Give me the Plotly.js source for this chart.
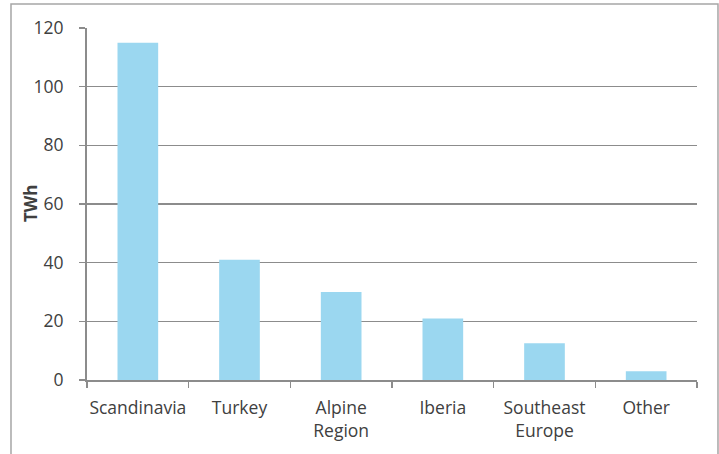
<!DOCTYPE html>
<html>
<head>
<meta charset="utf-8">
<script src="https://cdn.plot.ly/plotly-3.0.1.min.js"></script>
<style>
  html, body { margin: 0; padding: 0; background: #fff; }
  #chart { width: 719px; height: 454px; }
</style>
</head>
<body>
<div id="chart"></div>
<script>
// Hydropower generation by region (TWh)
const regions = ["Scandinavia", "Turkey", "Alpine<br>Region", "Iberia", "Southeast<br>Europe", "Other"];
const generationTWh = [115, 41, 30, 21, 12.5, 3];
const yTicks = [0, 20, 40, 60, 80, 100, 120];
const yAxisLabel = "TWh";

const textColor = "#404040";
const gridColor = "#8c8c8c";
const fontFamily = "'Open Sans', sans-serif";

const trace = {
  type: "bar",
  x: regions,
  y: generationTWh,
  marker: { color: "#9BD7F0", line: { width: 0 } },
  hoverinfo: "x+y"
};

const layout = {
  width: 719,
  height: 454,
  margin: { l: 87, r: 22, t: 28, b: 74 },
  paper_bgcolor: "#ffffff",
  plot_bgcolor: "#ffffff",
  bargap: 0.6,
  showlegend: false,
  font: { family: fontFamily, size: 17.5, color: textColor },
  xaxis: {
    type: "category",
    showgrid: false,
    showline: true,
    linecolor: gridColor,
    linewidth: 2,
    ticks: "outside",
    tickson: "boundaries",
    ticklen: 6,
    tickcolor: gridColor,
    tickwidth: 1.5,
    tickangle: 0,
    ticklabelstandoff: 11,
    tickfont: { family: fontFamily, size: 17.5, color: textColor },
    automargin: false
  },
  yaxis: {
    range: [0, 120],
    tickvals: yTicks,
    ticktext: yTicks.map(String),
    showgrid: true,
    gridcolor: gridColor,
    gridwidth: 1.5,
    zeroline: false,
    showline: true,
    linecolor: gridColor,
    linewidth: 2,
    ticks: "outside",
    ticklen: 6,
    tickcolor: gridColor,
    tickwidth: 1.5,
    ticklabelstandoff: 12,
    tickfont: { family: fontFamily, size: 17.5, color: textColor },
    automargin: false
  },
  annotations: [
    {
      // rotated y-axis label
      text: "<b>" + yAxisLabel + "</b>",
      xref: "paper", yref: "paper",
      x: -0.0934, y: 0.5,
      xanchor: "center", yanchor: "middle",
      textangle: -90,
      showarrow: false,
      font: { family: fontFamily, size: 17, color: textColor }
    }
  ],
  shapes: [
    {
      // outer chart frame
      type: "rect",
      xref: "paper", yref: "paper",
      x0: -0.1246, x1: 1.0344, y0: -0.3, y1: 1.068,
      line: { color: "#a6a6a6", width: 1.5 },
      fillcolor: "rgba(0,0,0,0)",
      layer: "below"
    }
  ]
};

Plotly.newPlot("chart", [trace], layout, { displayModeBar: false, staticPlot: true });
</script>
</body>
</html>
